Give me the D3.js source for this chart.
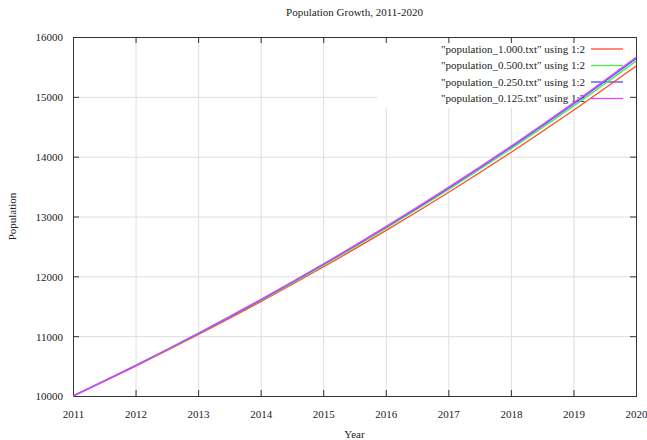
<!DOCTYPE html>
<html>
<head>
<meta charset="utf-8">
<script src="https://cdn.jsdelivr.net/npm/d3@7"></script>
<style>
  html, body { margin: 0; padding: 0; background: #fff; }
  svg { display: block; }
  text { font-family: "Liberation Serif", "Times New Roman", serif; fill: #222; }
</style>
</head>
<body>
<svg id="chart" width="647" height="440"></svg>
<script>
// Yearly population values for each step size
const years = [2011, 2012, 2013, 2014, 2015, 2016, 2017, 2018, 2019, 2020];
const pop1000 = [10000, 10500, 11025, 11576, 12155, 12763, 13401, 14071, 14775, 15513];
const pop0500 = [10000, 10506, 11038, 11597, 12184, 12801, 13449, 14130, 14845, 15597];
const pop0250 = [10000, 10509, 11045, 11607, 12199, 12820, 13473, 14160, 14881, 15639];
const pop0125 = [10000, 10511, 11048, 11613, 12206, 12830, 13486, 14175, 14900, 15661];
const seriesLabels = [
  '"population_1.000.txt" using 1:2',
  '"population_0.500.txt" using 1:2',
  '"population_0.250.txt" using 1:2',
  '"population_0.125.txt" using 1:2'
];
const yTicks = [10000, 11000, 12000, 13000, 14000, 15000, 16000];

const colors = ["#ff4a26", "#4ee84e", "#4848ff", "#e04cff"];
const series = [pop1000, pop0500, pop0250, pop0125].map((vals, i) => ({
  label: seriesLabels[i], color: colors[i],
  points: years.map((y, j) => ({ x: y, y: vals[j] }))
}));

const svg = d3.select("#chart");
const L = 73, R = 636, T = 37, B = 396;
const x = d3.scaleLinear().domain([2011, 2020]).range([L, R]);
const y = d3.scaleLinear().domain([10000, 16000]).range([B, T]);

// grid
const grid = svg.append("g").attr("stroke", "#dedede").attr("stroke-width", 1);
years.slice(1, -1).forEach(v => grid.append("line")
  .attr("x1", x(v) + 0.5).attr("x2", x(v) + 0.5).attr("y1", T).attr("y2", B));
yTicks.slice(1, -1).forEach(v => grid.append("line")
  .attr("x1", L).attr("x2", R).attr("y1", y(v) + 0.5).attr("y2", y(v) + 0.5));

// opaque key background
svg.append("rect").attr("x", 377).attr("y", T + 1).attr("width", R - 377 - 1).attr("height", 107 - T)
  .attr("fill", "#fff");

// axes with inward ticks on all four sides
const tl = 6;
const axB = svg.append("g").attr("transform", `translate(0,${B})`)
  .call(d3.axisBottom(x).tickValues(years).tickFormat(d3.format("d")).tickSizeInner(-tl).tickSizeOuter(0).tickPadding(14));
const axT = svg.append("g").attr("transform", `translate(0,${T})`)
  .call(d3.axisTop(x).tickValues(years).tickFormat("").tickSizeInner(-tl).tickSizeOuter(0));
const axL = svg.append("g").attr("transform", `translate(${L},0)`)
  .call(d3.axisLeft(y).tickValues(yTicks).tickFormat(d3.format("d")).tickSizeInner(-tl).tickSizeOuter(0).tickPadding(10));
const axR = svg.append("g").attr("transform", `translate(${R},0)`)
  .call(d3.axisRight(y).tickValues(yTicks).tickFormat("").tickSizeInner(-tl).tickSizeOuter(0));
[axB, axT, axL, axR].forEach(a => {
  a.select(".domain").remove();
  a.selectAll("line").attr("stroke", "#333");
  a.selectAll("text").attr("font-family", '"Liberation Serif", serif').attr("font-size", 11).attr("fill", "#222");
});
axL.selectAll("text").attr("dy", "0.35em");

// border
svg.append("rect").attr("x", L + 0.5).attr("y", T + 0.5).attr("width", R - L).attr("height", B - T)
  .attr("fill", "none").attr("stroke", "#333").attr("stroke-width", 1);

// legend
const keyRows = [49, 65.5, 82, 98.5];
series.forEach((s, i) => {
  svg.append("text").attr("x", 585).attr("y", keyRows[i]).attr("dy", "0.35em")
    .attr("text-anchor", "end").attr("font-size", 11).text(s.label);
  svg.append("line").attr("x1", 591).attr("x2", 623).attr("y1", keyRows[i]).attr("y2", keyRows[i])
    .attr("stroke", s.color).attr("stroke-width", 1.3);
});

// data lines
const line = d3.line().x(d => x(d.x)).y(d => y(d.y)).curve(d3.curveMonotoneX);
series.forEach(s => svg.append("path").datum(s.points)
  .attr("d", line).attr("fill", "none").attr("stroke", s.color).attr("stroke-width", 1.3));

// titles
svg.append("text").attr("x", (L + R) / 2).attr("y", 16).attr("text-anchor", "middle")
  .attr("font-size", 11).text("Population Growth, 2011-2020");
svg.append("text").attr("x", (L + R) / 2).attr("y", 438).attr("text-anchor", "middle")
  .attr("font-size", 11).text("Year");
svg.append("text").attr("transform", `translate(16,${(T + B) / 2}) rotate(-90)`)
  .attr("text-anchor", "middle").attr("font-size", 11).text("Population");
</script>
</body>
</html>
